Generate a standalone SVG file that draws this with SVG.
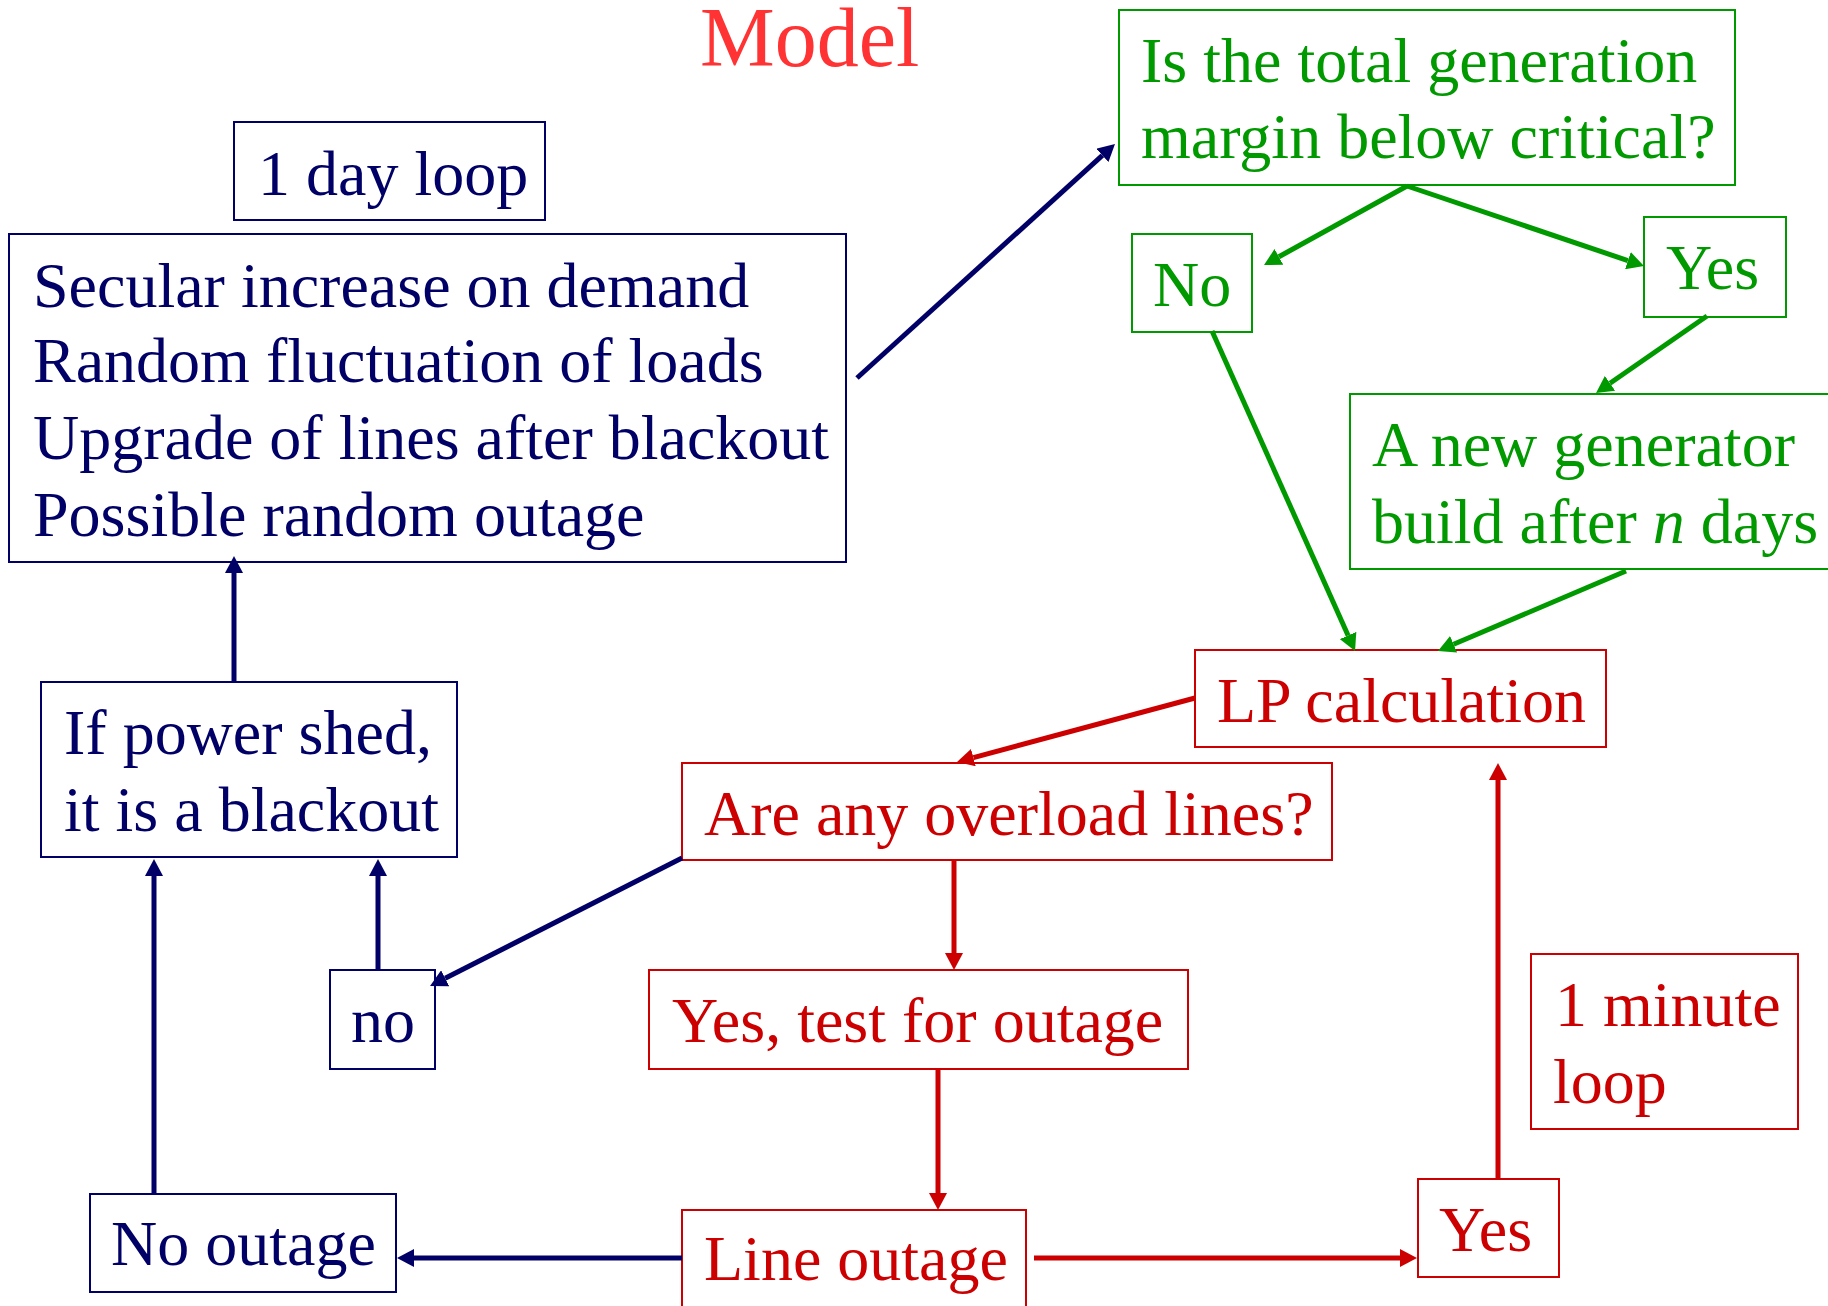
<svg xmlns="http://www.w3.org/2000/svg" width="1828" height="1306" viewBox="0 0 1828 1306">
<style>
text{font-family:"Liberation Serif","Times New Roman",serif;font-size:64px}
.nv{fill:#000066}.gr{fill:#009900}.rd{fill:#CC0000}
.bn{fill:#fff;stroke:#000066;stroke-width:2}
.bg{fill:#fff;stroke:#009900;stroke-width:2}
.br{fill:#fff;stroke:#CC0000;stroke-width:2}
.cn{stroke:#000066;stroke-width:5;fill:none;marker-end:url(#an)}
.cg{stroke:#009900;stroke-width:5;fill:none;marker-end:url(#ag)}
.cr{stroke:#CC0000;stroke-width:5;fill:none;marker-end:url(#ar)}
</style>
<defs>
<marker id="an" markerUnits="userSpaceOnUse" markerWidth="17" markerHeight="18" viewBox="0 0 17 18" refX="0" refY="9" orient="auto"><path d="M0,0 L17,9 L0,18 z" fill="#000066"/></marker>
<marker id="ag" markerUnits="userSpaceOnUse" markerWidth="17" markerHeight="18" viewBox="0 0 17 18" refX="0" refY="9" orient="auto"><path d="M0,0 L17,9 L0,18 z" fill="#009900"/></marker>
<marker id="ar" markerUnits="userSpaceOnUse" markerWidth="17" markerHeight="18" viewBox="0 0 17 18" refX="0" refY="9" orient="auto"><path d="M0,0 L17,9 L0,18 z" fill="#CC0000"/></marker>
</defs>
<rect width="1828" height="1306" fill="#fff"/>
<text x="700" y="66" style="font-size:84px" fill="#FF3333">Model</text>

<g id="day-loop"><rect class="bn" x="234" y="122" width="311" height="98"/><text class="nv" x="258" y="195">1 day loop</text></g>
<g id="daily"><rect class="bn" x="9" y="234" width="837" height="328"/>
<text class="nv" x="33" y="307">Secular increase on demand</text>
<text class="nv" x="33" y="382">Random fluctuation of loads</text>
<text class="nv" x="33" y="459">Upgrade of lines after blackout</text>
<text class="nv" x="33" y="536">Possible random outage</text></g>
<g id="question"><rect class="bg" x="1119" y="10" width="616" height="175"/>
<text class="gr" x="1141" y="82">Is the total generation</text>
<text class="gr" x="1141" y="158">margin below critical?</text></g>
<g id="no-g"><rect class="bg" x="1132" y="234" width="120" height="98"/><text class="gr" x="1153" y="306">No</text></g>
<g id="yes-g"><rect class="bg" x="1644" y="217" width="142" height="100"/><text class="gr" x="1666" y="289">Yes</text></g>
<g id="newgen"><rect class="bg" x="1350" y="394" width="490" height="175"/>
<text class="gr" x="1372" y="466">A new generator</text>
<text class="gr" x="1372" y="543">build after <tspan font-style="italic">n</tspan> days</text></g>
<g id="lp"><rect class="br" x="1195" y="650" width="411" height="97"/><text class="rd" x="1217" y="722">LP calculation</text></g>
<g id="overload"><rect class="br" x="682" y="763" width="650" height="97"/><text class="rd" x="704" y="835">Are any overload lines?</text></g>
<g id="yestest"><rect class="br" x="649" y="970" width="539" height="99"/><text class="rd" x="672" y="1042">Yes, test for outage</text></g>
<g id="lineout"><rect class="br" x="682" y="1210" width="344" height="110"/><text class="rd" x="704" y="1280">Line outage</text></g>
<g id="yes-r"><rect class="br" x="1418" y="1179" width="141" height="98"/><text class="rd" x="1439" y="1251">Yes</text></g>
<g id="minute"><rect class="br" x="1531" y="954" width="267" height="175"/>
<text class="rd" x="1555" y="1026">1 minute</text>
<text class="rd" x="1553" y="1103">loop</text></g>
<g id="no-n"><rect class="bn" x="330" y="970" width="105" height="99"/><text class="nv" x="351" y="1042">no</text></g>
<g id="ifpower"><rect class="bn" x="41" y="682" width="416" height="175"/>
<text class="nv" x="64" y="754">If power shed,</text>
<text class="nv" x="64" y="831">it is a blackout</text></g>
<g id="nooutage"><rect class="bn" x="90" y="1194" width="306" height="98"/><text class="nv" x="111" y="1265">No outage</text></g>

<g id="connectors">
<path class="cn" d="M857,378 L1102.4,155.4"/>
<path class="cg" d="M1407,186 L1278.9,256.8"/>
<path class="cg" d="M1407,186 L1627.9,260.6"/>
<path class="cg" d="M1707,316 L1610,383.3"/>
<path class="cg" d="M1212,331 L1348.1,635.5"/>
<path class="cg" d="M1626,571 L1453.6,644.3"/>
<path class="cr" d="M1195,698 L973.4,757.6"/>
<path class="cn" d="M682,858 L445.2,978.3"/>
<path class="cn" d="M378,970 L378,876"/>
<path class="cn" d="M154,1194 L154,876"/>
<path class="cn" d="M234,682 L234,573"/>
<path class="cn" d="M682,1258 L414,1258"/>
<path class="cr" d="M954,860 L954,953"/>
<path class="cr" d="M938,1069 L938,1193"/>
<path class="cr" d="M1034,1258 L1400,1258"/>
<path class="cr" d="M1498,1179 L1498,780"/>
</g>
</svg>
